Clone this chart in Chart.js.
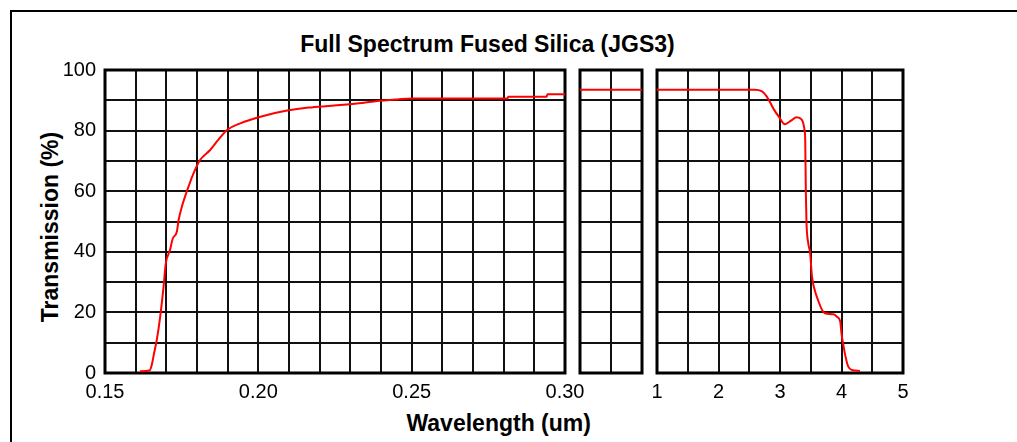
<!DOCTYPE html>
<html><head><meta charset="utf-8">
<script src="https://cdn.jsdelivr.net/npm/chart.js@4.4.1/dist/chart.umd.min.js"></script>
<style>
html,body{margin:0;padding:0;background:#fff;overflow:hidden;width:1017px;height:442px;}
#wrap{position:relative;width:1017px;height:442px;overflow:hidden;font-family:"Liberation Sans",Arial,sans-serif;background:#fff;}
#frame{position:absolute;left:10px;top:10px;width:1100px;height:500px;border-left:2px solid #000;border-top:2px solid #000;}
canvas{position:absolute;top:0;}
.t{position:absolute;font-weight:bold;font-size:23px;line-height:23px;white-space:nowrap;color:#000;}
</style></head><body>
<div id="wrap">
<div id="frame"></div>
<div class="t" id="title" style="left:487.5px;top:33px;transform:translateX(-50%)">Full Spectrum Fused Silica (JGS3)</div>
<div class="t" id="xt" style="left:498.7px;top:411.5px;transform:translateX(-50%)">Wavelength (um)</div>
<div class="t" id="yt" style="left:49.7px;top:226.7px;transform:translate(-50%,-50%) rotate(-90deg)">Transmission (%)</div>
<canvas id="cL" width="595" height="442" style="left:0px"></canvas>
<canvas id="cM" width="78" height="442" style="left:572px"></canvas>
<canvas id="cR" width="310" height="442" style="left:630px"></canvas>
</div>
<script>
// ---- data ----
const yTickLabels = ['0', '20', '40', '60', '80', '100'];
const leftTickLabels = ['0.15', '0.20', '0.25', '0.30'];
const rightTickLabels = ['1', '2', '3', '4', '5'];

const leftX = [0.1614, 0.1645, 0.1652, 0.1660, 0.1669, 0.1680, 0.1691, 0.1698, 0.1712, 0.1721, 0.1734, 0.1740, 0.1751, 0.1767, 0.1789, 0.1810, 0.1843, 0.1870, 0.1898, 0.1941, 0.2007, 0.2094, 0.2164, 0.2240, 0.2328, 0.2382, 0.2453, 0.2500, 0.2812, 0.2815, 0.2940, 0.2943, 0.3000];
const leftY = [0.6, 0.8, 2.5, 6.5, 11, 18.6, 28.5, 36, 40.6, 44.4, 46.5, 50.5, 55, 60, 66, 70.3, 73.6, 77, 80.2, 82.4, 84.6, 86.6, 87.6, 88.2, 89.0, 89.7, 90.3, 90.6, 90.6, 91.2, 91.2, 92.0, 92.0];

const midX = [0, 2];
const midY = [93.5, 93.5];

const rightX = [1.0, 2.59, 2.70, 2.78, 2.90, 2.98, 3.08, 3.18, 3.27, 3.35, 3.40, 3.41, 3.42, 3.43, 3.46, 3.49, 3.52, 3.57, 3.62, 3.68, 3.73, 3.87, 3.93, 3.98, 4.00, 4.03, 4.07, 4.11, 4.17, 4.30];
const rightY = [93.5, 93.5, 93, 91.4, 87, 84.6, 82.1, 83.3, 84.4, 83.7, 80, 77, 60, 50, 42.8, 39.6, 31.8, 27, 24, 21, 19.7, 19.4, 18.5, 16.9, 13, 9.2, 5, 2.1, 1, 0.7];

// ---- helpers ----
function pts(xs, ys) { return xs.map((x, i) => ({ x: x, y: ys[i] })); }

Chart.defaults.font.family = '"Liberation Sans", Arial, sans-serif';
Chart.defaults.color = '#000';

const borderPlugin = {
  id: 'panelBorder',
  beforeDatasetsDraw(chart) {
    const ctx = chart.ctx, a = chart.chartArea;
    ctx.save();
    ctx.strokeStyle = '#000';
    ctx.lineWidth = 3;
    ctx.strokeRect(a.left, a.top, a.right - a.left, a.bottom - a.top);
    ctx.restore();
  }
};

const gridOpts = { color: '#111', lineWidth: 2, drawTicks: false };

function yScale(showLabels) {
  return {
    type: 'linear', min: 0, max: 100,
    border: { display: false },
    grid: gridOpts,
    ticks: {
      display: showLabels, stepSize: 10, padding: 9, autoSkip: false,
      font: { size: 20 }, color: '#000',
      callback: (v) => { const s = String(Math.round(v)); return yTickLabels.includes(s) ? s : ''; }
    },
    afterFit: (s) => { s.width = showLabels ? 50 : 0; }
  };
}

function xScale(min, max, step, labels, showLabels) {
  return {
    type: 'linear', min: min, max: max,
    border: { display: false },
    grid: gridOpts,
    ticks: {
      display: showLabels, stepSize: step, padding: 7, autoSkip: false, maxRotation: 0, minRotation: 0,
      font: { size: 20 }, color: '#000',
      callback: (v) => {
        if (!labels) return '';
        const s2 = Number(v).toFixed(2);
        if (labels.includes(s2)) return s2;
        const s0 = String(Number(Number(v).toFixed(3)));
        return labels.includes(s0) ? s0 : '';
      }
    },
    afterFit: (s) => { s.height = showLabels ? 30 : 0; }
  };
}

function makeChart(id, data, xs, ys, padding) {
  return new Chart(document.getElementById(id), {
    type: 'line',
    data: { datasets: [{
      data: data, borderColor: '#ff0000', borderWidth: 2, pointRadius: 0,
      fill: false, cubicInterpolationMode: 'monotone'
    }] },
    options: {
      responsive: false, animation: false, events: [],
      layout: { padding: padding },
      plugins: { legend: { display: false }, tooltip: { enabled: false }, title: { display: false } },
      scales: { x: xs, y: ys }
    },
    plugins: [borderPlugin]
  });
}

makeChart('cL', pts(leftX, leftY),
  xScale(0.15, 0.30, 0.01, leftTickLabels, true), yScale(true),
  { left: 55, top: 70, right: 30, bottom: 39 });

makeChart('cM', pts(midX, midY),
  xScale(0, 2, 1, null, false), yScale(false),
  { left: 8, top: 70, right: 8, bottom: 69 });

makeChart('cR', pts(rightX, rightY),
  xScale(1, 5, 0.5, rightTickLabels, true), yScale(false),
  { left: 27, top: 70, right: 37, bottom: 39 });
</script>
</body></html>
